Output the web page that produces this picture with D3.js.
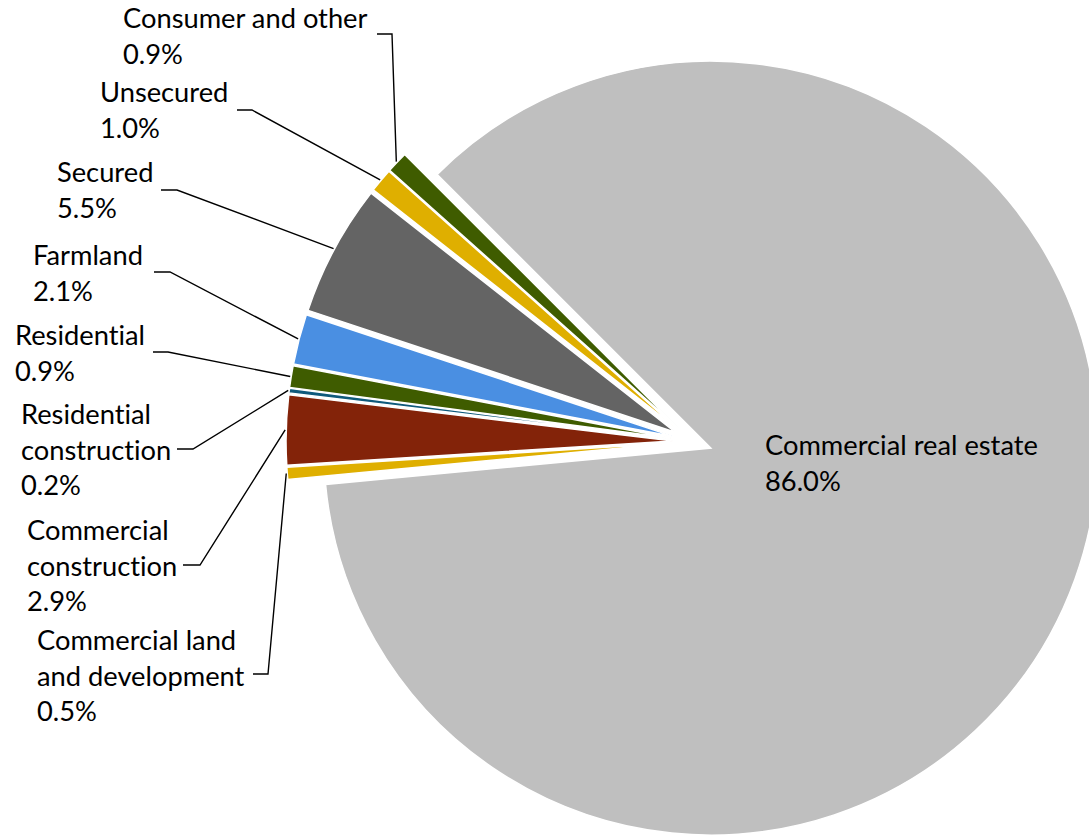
<!DOCTYPE html>
<html>
<head>
<meta charset="utf-8">
<script src="https://cdn.jsdelivr.net/npm/d3@7"></script>
<style>
  html, body { margin: 0; padding: 0; background: #ffffff; }
  svg { display: block; }
  text { font-variant-ligatures: none; font-feature-settings: "liga" 0, "clig" 0; }
</style>
</head>
<body>
<svg id="chart" width="1089" height="836"></svg>
<script>
// ---- data ----
const categories = [
  "Commercial real estate",
  "Commercial land and development",
  "Commercial construction",
  "Residential construction",
  "Residential",
  "Farmland",
  "Secured",
  "Unsecured",
  "Consumer and other"
];
const shares = [86.0, 0.5, 2.9, 0.2, 0.9, 2.1, 5.5, 1.0, 0.9];
const labelLines = [
  ["Commercial real estate"],
  ["Commercial land", "and development"],
  ["Commercial", "construction"],
  ["Residential", "construction"],
  ["Residential"],
  ["Farmland"],
  ["Secured"],
  ["Unsecured"],
  ["Consumer and other"]
];
const colors = ["#BFBFBF", "#DFAF00", "#832309", "#0F5A7C", "#3F5C00", "#4A8FE2", "#646464", "#DFAF00", "#3F5C00"];

// ---- layout ----
const W = 1089, H = 836;
const cx = 692.5, cy = 441.5;
const R = 387;
const explode = 19.5;
const firstAngle = 315 * Math.PI / 180;
const lineH = 35.5;
// label text anchor (left x, first baseline) and leader elbow (x0 -> x1 at y)
const labelPos = [
  { x: 765, y: 455, leader: null },
  { x: 37, y: 650, leader: [253, 268, 674] },
  { x: 27, y: 540, leader: [183, 200, 565] },
  { x: 21, y: 424, leader: [177, 193, 449] },
  { x: 15, y: 345, leader: [153, 168, 352] },
  { x: 33, y: 265, leader: [154, 170, 272] },
  { x: 57, y: 182, leader: [161, 177, 190] },
  { x: 100, y: 102, leader: [237, 252, 110] },
  { x: 123, y: 28, leader: [377, 392, 34] }
];

const svg = d3.select("#chart");
const fmt = d3.format(".1%");
const fontFamily = "Lato, 'Open Sans', 'Noto Sans', sans-serif";

// fit font size to Calibri-like metrics: "Commercial real estate" ~273px wide
const probe = svg.append("text").attr("font-family", fontFamily).attr("font-size", 100).text("Commercial real estate");
const w100 = probe.node().getComputedTextLength();
probe.remove();
const fontSize = Math.max(18, Math.min(30, 100 * 273 / w100));

const pie = d3.pie().sort(null).value(d => d).startAngle(firstAngle).endAngle(firstAngle + 2 * Math.PI);
const arcs = pie(shares);
const arcGen = d3.arc().innerRadius(0).outerRadius(R);

function dir(a) { return [Math.sin(a), -Math.cos(a)]; }

const slices = svg.append("g");
arcs.forEach((a, i) => {
  const mid = (a.startAngle + a.endAngle) / 2;
  const [dx, dy] = dir(mid);
  const ox = cx + explode * dx, oy = cy + explode * dy;
  slices.append("path")
    .attr("d", arcGen(a))
    .attr("transform", `translate(${ox},${oy})`)
    .attr("fill", colors[i])
    .attr("stroke", "#ffffff")
    .attr("stroke-width", 1.5)
    .attr("stroke-linejoin", "miter");
});

// leaders
const leaders = svg.append("g");
arcs.forEach((a, i) => {
  const lp = labelPos[i];
  if (!lp.leader) return;
  const mid = (a.startAngle + a.endAngle) / 2;
  const [dx, dy] = dir(mid);
  const ex = cx + explode * dx + (R + 1) * dx;
  const ey = cy + explode * dy + (R + 1) * dy;
  const [x0, x1, y] = lp.leader;
  leaders.append("path")
    .attr("d", d3.line()([[x0, y], [x1, y], [ex, ey]]))
    .attr("fill", "none")
    .attr("stroke", "#000000")
    .attr("stroke-width", 1.4);
});

// labels
const labels = svg.append("g")
  .attr("font-family", fontFamily)
  .attr("font-size", fontSize)
  .attr("fill", "#000000");
arcs.forEach((a, i) => {
  const lp = labelPos[i];
  const lines = labelLines[i].concat([fmt(shares[i] / 100)]);
  const t = labels.append("text").attr("x", lp.x).attr("y", lp.y);
  lines.forEach((ln, k) => {
    t.append("tspan").attr("x", lp.x).attr("y", lp.y + k * lineH).text(ln);
  });
});
</script>
</body>
</html>
